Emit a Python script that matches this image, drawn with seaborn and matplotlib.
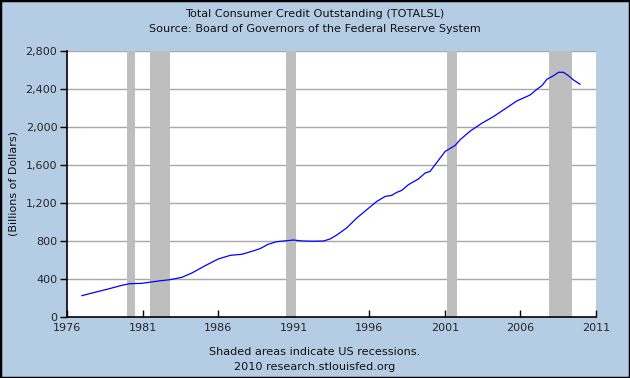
import matplotlib
matplotlib.use("Agg")
import matplotlib.pyplot as plt
import matplotlib.ticker as mticker
from matplotlib.patches import Rectangle
import seaborn as sns
import pandas as pd

# Data (decimal year, billions of dollars)
years = [1976.97, 1977.85, 1978.73, 1979.62, 1980.17, 1980.94, 1982.04, 1982.82,
         1983.59, 1984.25, 1985.13, 1986.0, 1986.8, 1987.56, 1988.2, 1988.77,
         1989.3, 1989.88, 1990.98, 1991.6, 1992.3, 1992.97, 1993.4, 1993.84,
         1994.5, 1995.17, 1996.05, 1996.5, 1997.05, 1997.48, 1997.82, 1998.15,
         1998.59, 1999.25, 1999.7, 2000.02, 2000.47, 2001.02, 2001.68, 2002.01,
         2002.67, 2003.44, 2004.21, 2004.87, 2005.76, 2006.64, 2007.09, 2007.42,
         2007.75, 2008.19, 2008.52, 2008.85, 2009.18, 2009.51, 2009.95]
credit = [224, 260, 295, 333, 351, 354, 379, 393,
          417, 462, 539, 610, 649, 660, 690, 719,
          765, 793, 810, 800, 798, 800, 821, 862,
          937, 1042, 1158, 1217, 1269, 1280, 1312, 1333,
          1393, 1453, 1516, 1533, 1627, 1743, 1806, 1866,
          1956, 2039, 2109, 2179, 2274, 2337, 2397, 2435,
          2502, 2540, 2576, 2576, 2540, 2495, 2449]
rec_start = [1980.0, 1981.5, 1990.5, 2001.17, 2007.92]
rec_end = [1980.5, 1982.83, 1991.17, 2001.83, 2009.42]
x_ticks = [1976, 1981, 1986, 1991, 1996, 2001, 2006, 2011]
y_ticks = [0, 400, 800, 1200, 1600, 2000, 2400, 2800]

df = pd.DataFrame({"year": years, "credit": credit})

bg = "#B4CCE4"
sns.set_theme(style="white")
plt.rcParams["font.family"] = ["DejaVu Sans"]

fig = plt.figure(figsize=(6.3, 3.78), dpi=100, facecolor=bg)
ax = fig.add_axes([67 / 630, 1 - 317 / 378, (596 - 67) / 630, (317 - 51) / 378])
ax.set_facecolor("white")

for s, e in zip(rec_start, rec_end):
    ax.axvspan(s, e, color="#BEBEBE", lw=0, zorder=1)

for t in y_ticks[1:]:
    ax.axhline(t, color="#A8A8A8", lw=1, zorder=0.5)

sns.lineplot(data=df, x="year", y="credit", ax=ax, color="#0000FF", lw=0.9, zorder=3)

ax.set_xlim(1976, 2011)
ax.set_ylim(0, 2800)
ax.set_xticks(x_ticks)
ax.set_yticks(y_ticks)
ax.yaxis.set_major_formatter(mticker.FuncFormatter(lambda v, p: f"{int(v):,}"))
ax.set_xlabel("")
ax.set_ylabel("(Billions of Dollars)", fontsize=8, color="#111111", labelpad=5)

for sp in ["top", "right"]:
    ax.spines[sp].set_visible(False)
for sp in ["left", "bottom"]:
    ax.spines[sp].set_color("black")
    ax.spines[sp].set_linewidth(1.2)

ax.tick_params(axis="x", direction="in", length=5, width=1, color="black",
               labelsize=8, pad=4, bottom=True)
ax.tick_params(axis="y", direction="out", length=5, width=1, color="black",
               labelsize=8, pad=2, left=True)

fs = 8.1
fig.text(0.5, 1 - 14 / 378, "Total Consumer Credit Outstanding (TOTALSL)",
         ha="center", va="center", fontsize=fs, color="#111111")
fig.text(0.5, 1 - 29 / 378, "Source: Board of Governors of the Federal Reserve System",
         ha="center", va="center", fontsize=fs, color="#111111")
fig.text(0.5, 1 - 352 / 378, "Shaded areas indicate US recessions.",
         ha="center", va="center", fontsize=fs, color="#111111")
fig.text(0.5, 1 - 367 / 378, "2010 research.stlouisfed.org",
         ha="center", va="center", fontsize=fs, color="#111111")

fig.patches.append(Rectangle((0, 0), 1, 1, transform=fig.transFigure, fill=False,
                             edgecolor="black", lw=2.5))

fig.savefig("out.png", dpi=100, facecolor=bg)
